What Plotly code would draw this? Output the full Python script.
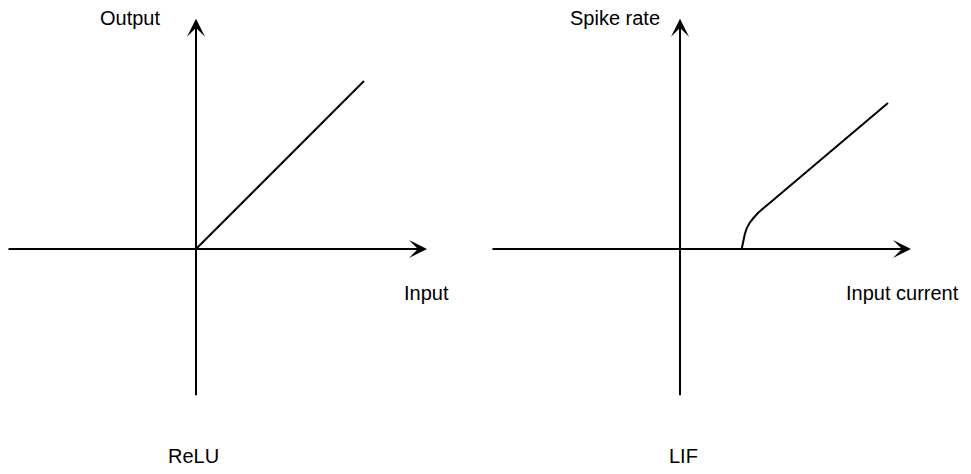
import plotly.graph_objects as go

# ---- data (diagram units: 1 unit = length of the ReLU segment) ----
relu_input = [0.0, 1.0]
relu_output = [0.0, 1.0]

lif_current = [0.367, 0.372, 0.377, 0.386, 0.397, 0.414, 0.436, 0.464, 0.496, 0.524, 0.555, 1.238]
lif_rate = [0.0, 0.024, 0.054, 0.089, 0.123, 0.155, 0.183, 0.214, 0.242, 0.265, 0.292, 0.869]

panel_titles = ["ReLU", "LIF"]
x_labels = ["Input", "Input current"]
y_labels = ["Output", "Spike rate"]

# axis extents (diagram units)
ax_x = [-1.125, 1.375]
ax_y = [-0.88, 1.37]

# page has an 8px body margin -> figure is placed at (8, 8)
PAD = 8
TOP, BOTTOM = PAD, 474 - PAD          # page y covered by the figure
LEFT, RIGHT = PAD, 971                # page x covered by the figure
W, H = int(RIGHT - LEFT), int(BOTTOM - TOP)
S = 168.0                     # px per unit
origins = [196.0, 680.0]      # page x of each panel's origin
oy = 249.0                    # page y of both origins
split = 492.0                 # page x where the panels meet

x_ranges = [[(LEFT - origins[0]) / S, (split - origins[0]) / S],
            [(split - origins[1]) / S, (RIGHT - origins[1]) / S]]
yr = [(oy - BOTTOM) / S, (oy - TOP) / S]

fig = go.Figure()
fig.add_trace(go.Scatter(x=relu_input, y=relu_output, mode="lines",
                         line=dict(color="black", width=2), xaxis="x", yaxis="y",
                         hoverinfo="skip"))
fig.add_trace(go.Scatter(x=lif_current, y=lif_rate, mode="lines",
                         line=dict(color="black", width=2),
                         xaxis="x2", yaxis="y2", hoverinfo="skip"))

font = dict(family="Liberation Sans, Arial, sans-serif", size=20, color="black")
annotations = []
for i, (xa, ya) in enumerate([("x", "y"), ("x2", "y2")]):
    annotations.append(dict(x=ax_x[1], y=0, ax=ax_x[0], ay=0, xref=xa, yref=ya,
                            axref=xa, ayref=ya, text="", showarrow=True,
                            arrowhead=3, arrowsize=1.5, arrowwidth=2, arrowcolor="black",
                            standoff=0, startstandoff=0))
    annotations.append(dict(x=0, y=ax_y[1], ax=0, ay=ax_y[0], xref=xa, yref=ya,
                            axref=xa, ayref=ya, text="", showarrow=True,
                            arrowhead=3, arrowsize=1.5, arrowwidth=2, arrowcolor="black",
                            standoff=0, startstandoff=0))
    annotations.append(dict(x=[1.37, 1.325][i], y=-0.262, xref=xa, yref=ya, text=x_labels[i],
                            showarrow=False, font=font, xanchor="center", yanchor="middle"))
    annotations.append(dict(x=[-0.204, -0.109][i], y=1.375, xref=xa, yref=ya,
                            text=y_labels[i], showarrow=False, font=font,
                            xanchor="right", yanchor="middle"))
    annotations.append(dict(x=[-0.012, 0.018][i], y=-1.232, xref=xa, yref=ya,
                            text=panel_titles[i], showarrow=False, font=font,
                            xanchor="center", yanchor="middle"))

ax_common = dict(visible=False, fixedrange=True)
fig.update_layout(
    width=W, height=H,
    margin=dict(l=0, r=0, t=0, b=0),
    paper_bgcolor="white", plot_bgcolor="white",
    showlegend=False,
    xaxis=dict(domain=[0, (split - LEFT) / W], range=x_ranges[0], **ax_common),
    yaxis=dict(domain=[0, 1], range=yr, **ax_common),
    xaxis2=dict(domain=[(split - LEFT) / W, 1], range=x_ranges[1], anchor="y2", **ax_common),
    yaxis2=dict(domain=[0, 1], range=yr, anchor="x2", **ax_common),
    annotations=annotations,
)
fig.write_html("out.html")
